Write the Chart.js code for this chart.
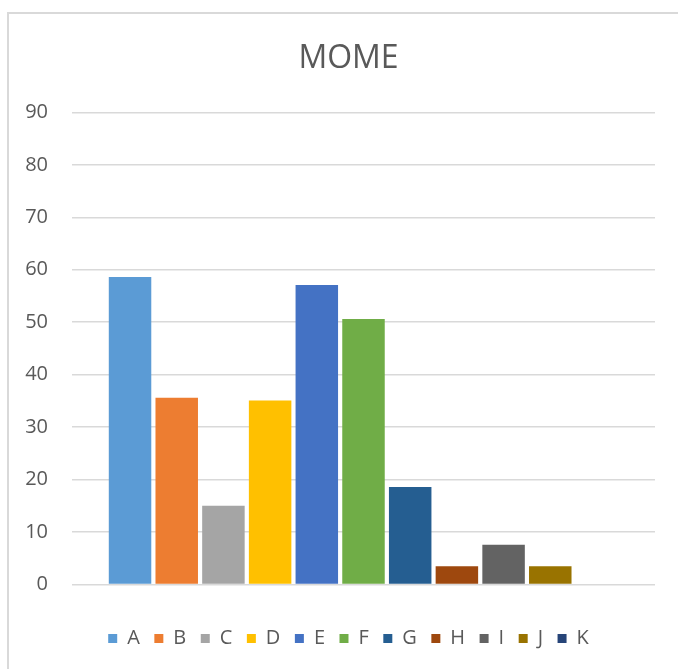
<!DOCTYPE html>
<html>
<head>
<meta charset="utf-8">
<script src="https://cdn.jsdelivr.net/npm/chart.js@4/dist/chart.umd.min.js"></script>
<style>
  html, body { margin: 0; padding: 0; background: #fff; overflow: hidden; }
  #frame {
    position: absolute; left: 7px; top: 12px; width: 700px; height: 700px;
    border-left: 2px solid #d9d9d9; border-top: 2px solid #d9d9d9;
  }
  #wrap { position: absolute; left: 0; top: 0; width: 692px; height: 669px; }
</style>
</head>
<body>
<div id="frame"></div>
<div id="wrap"><canvas id="mome"></canvas></div>
<script>
const seriesNames = ["A", "B", "C", "D", "E", "F", "G", "H", "I", "J", "K"];
const seriesValues = [58.6, 35.6, 15.0, 35.1, 57.1, 50.6, 18.6, 3.5, 7.6, 3.5, 0];
const seriesColors = [
    "#5B9BD5", "#ED7D31", "#A5A5A5", "#FFC000", "#4472C4", "#70AD47",
    "#255E91", "#9E480E", "#636363", "#997300", "#264478",
];
const yTicks = [0, 10, 20, 30, 40, 50, 60, 70, 80, 90];

const textColor = "#595959";
Chart.defaults.font.family = "'Open Sans', sans-serif";
Chart.defaults.color = textColor;

const datasets = seriesNames.map((name, i) => ({
    label: name,
    data: [seriesValues[i]],
    backgroundColor: seriesColors[i],
    borderWidth: 0,
    categoryPercentage: 0.881,
    barPercentage: 0.91,
}));

const ctx = document.getElementById("mome").getContext("2d");
new Chart(ctx, {
    type: "bar",
    data: { labels: [""], datasets: datasets },
    options: {
        responsive: true,
        maintainAspectRatio: false,
        animation: false,
        layout: { padding: { top: 20, left: 25, right: 20, bottom: 10.5 } },
        plugins: {
            title: {
                display: true,
                text: "MOME",
                color: textColor,
                font: { size: 32, weight: "normal" },
                padding: { top: 20, bottom: 34 },
            },
            legend: {
                position: "bottom",
                labels: {
                    boxWidth: 9,
                    boxHeight: 9,
                    padding: 14.5,
                    color: textColor,
                    font: { size: 20 },
                },
            },
            tooltip: { enabled: false },
        },
        scales: {
            x: {
                display: true,
                grid: { display: false },
                border: { display: false },
                ticks: { display: false },
                afterFit: (axis) => { axis.height = 29.5; },
            },
            y: {
                min: 0,
                max: 90,
                afterBuildTicks: (axis) => { axis.ticks = yTicks.map(v => ({ value: v })); },
                afterFit: (axis) => { axis.width = 47; },
                grid: { color: "#d9d9d9", lineWidth: 1.5, drawTicks: false },
                border: { display: false },
                ticks: { padding: 24, color: textColor, font: { size: 20 } },
            },
            // empty spacer on the right, keeps the title and legend centred like the original
            spacer: {
                type: "linear",
                axis: "y",
                position: "right",
                display: true,
                grid: { display: false },
                border: { display: false },
                ticks: { display: false },
                afterFit: (axis) => { axis.width = 17; },
            },
        },
    },
});
</script>
</body>
</html>
